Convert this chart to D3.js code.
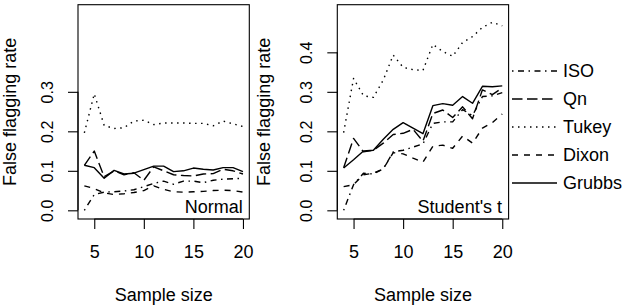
<!DOCTYPE html>
<html><head><meta charset="utf-8">
<script src="https://cdn.jsdelivr.net/npm/d3@7/dist/d3.min.js"></script>
<style>
body{margin:0;background:#fff}
svg{display:block}
text{font-family:"Liberation Sans",Arial,Helvetica,sans-serif;fill:#000}
</style>
</head><body>
<svg id="chart" width="623" height="307"></svg>
<script>
// ---------- data ----------
const sampleSizes = [4,5,6,7,8,9,10,11,12,13,14,15,16,17,18,19,20];
const methods = ["ISO","Qn","Tukey","Dixon","Grubbs"];
const panelNames = ["Normal","Student's t"];
const xTicks = [5,10,15,20];
const yTicksNormal = [0.0,0.1,0.2,0.3];
const yTicksT = [0.0,0.1,0.2,0.3,0.4];

const isoNormal    = [0.000,0.040,0.046,0.047,0.049,0.052,0.060,0.068,0.074,0.066,0.074,0.074,0.070,0.076,0.079,0.080,0.081];
const qnNormal     = [0.114,0.150,0.085,0.100,0.090,0.095,0.076,0.110,0.100,0.090,0.088,0.087,0.092,0.093,0.104,0.100,0.092];
const tukeyNormal  = [0.196,0.295,0.215,0.207,0.209,0.226,0.228,0.217,0.221,0.221,0.221,0.220,0.220,0.214,0.226,0.219,0.212];
const dixonNormal  = [0.062,0.055,0.044,0.040,0.042,0.045,0.050,0.062,0.053,0.047,0.046,0.047,0.048,0.050,0.051,0.050,0.046];
const grubbsNormal = [0.114,0.108,0.081,0.101,0.092,0.094,0.103,0.112,0.112,0.098,0.100,0.107,0.104,0.102,0.108,0.108,0.098];

const isoT    = [0.000,0.065,0.094,0.092,0.105,0.148,0.152,0.160,0.168,0.220,0.224,0.224,0.255,0.240,0.288,0.290,0.298];
const qnT     = [0.108,0.182,0.148,0.152,0.170,0.192,0.195,0.205,0.175,0.245,0.254,0.235,0.262,0.232,0.305,0.293,0.310];
const tukeyT  = [0.197,0.334,0.290,0.286,0.330,0.393,0.362,0.356,0.354,0.420,0.402,0.390,0.425,0.440,0.463,0.476,0.467];
const dixonT  = [0.060,0.065,0.090,0.094,0.105,0.146,0.143,0.132,0.122,0.162,0.165,0.157,0.188,0.170,0.208,0.222,0.244];
const grubbsT = [0.107,0.128,0.150,0.152,0.180,0.205,0.222,0.208,0.194,0.265,0.270,0.266,0.288,0.271,0.314,0.313,0.315];

// ---------- styles ----------
const dash = {ISO:"1.5,4.5,6,4.5", Qn:"10.5,4.5", Tukey:"1.5,4.5", Dixon:"6,6", Grubbs:null};
const FONT_TITLE = 18, FONT_XTICK = 18, FONT_YTICK = 16;

const panels = [
  {name: panelNames[0], left: 78,    titleOffset: 62,  yTicks: yTicksNormal,
   series: {ISO: isoNormal, Qn: qnNormal, Tukey: tukeyNormal, Dixon: dixonNormal, Grubbs: grubbsNormal}},
  {name: panelNames[1], left: 337.3, titleOffset: 67,  yTicks: yTicksT,
   series: {ISO: isoT, Qn: qnT, Tukey: tukeyT, Dixon: dixonT, Grubbs: grubbsT}}
];

const W = 171.3, TOP = 4.7, BOTTOM = 219;
const svg = d3.select("#chart");

panels.forEach(p => {
  const x = d3.scaleLinear().domain([3.36, 20.64]).range([p.left, p.left + W]);
  const y = d3.scaleLinear().domain([-0.022, 0.5206]).range([BOTTOM, TOP]);
  const g = svg.append("g");

  // lines
  const line = d3.line().x((d,i) => x(sampleSizes[i])).y(d => y(d));
  methods.forEach(m => {
    g.append("path").datum(p.series[m])
      .attr("d", line)
      .attr("fill","none").attr("stroke","#000").attr("stroke-width",1.4)
      .attr("stroke-dasharray", dash[m])
      .attr("stroke-linejoin","round");
  });

  // box
  g.append("rect").attr("x", p.left).attr("y", TOP).attr("width", W).attr("height", BOTTOM - TOP)
    .attr("fill","none").attr("stroke","#000").attr("stroke-width",1.1);

  // x axis
  const xa = g.append("g").attr("transform",`translate(0,${BOTTOM})`)
    .call(d3.axisBottom(x).tickValues(xTicks).tickSize(10).tickSizeOuter(0).tickFormat(d3.format("d")));
  xa.select(".domain").attr("d", `M${x(xTicks[0])},0H${x(xTicks[xTicks.length-1])}`).attr("stroke-width",1.1);
  xa.selectAll(".tick line").attr("stroke-width",1.1);
  xa.selectAll(".tick text").attr("y",39).attr("dy",0)
    .style("font-size", FONT_XTICK + "px").style("font-family","Liberation Sans, Arial, sans-serif").attr("fill","#000");

  // y axis
  const ya = g.append("g").attr("transform",`translate(${p.left},0)`)
    .call(d3.axisLeft(y).tickValues(p.yTicks).tickSize(10).tickSizeOuter(0).tickFormat(d3.format(".1f")));
  ya.select(".domain").attr("d", `M0,${y(p.yTicks[0])}V${y(p.yTicks[p.yTicks.length-1])}`).attr("stroke-width",1.1);
  ya.selectAll(".tick line").attr("stroke-width",1.1);
  ya.selectAll(".tick text")
    .attr("transform","rotate(-90)")
    .attr("x",0).attr("y",-25.5).attr("dy",0)
    .attr("text-anchor","middle")
    .style("font-size", FONT_YTICK + "px").style("font-family","Liberation Sans, Arial, sans-serif").attr("fill","#000");

  // axis titles
  g.append("text").attr("x", p.left + W/2).attr("y", 301).attr("text-anchor","middle")
    .style("font-size", FONT_TITLE + "px").text("Sample size");
  g.append("text").attr("transform", `translate(${p.left - p.titleOffset},${(TOP+BOTTOM)/2}) rotate(-90)`)
    .attr("text-anchor","middle").style("font-size", FONT_TITLE + "px").text("False flagging rate");

  // panel label
  g.append("text").attr("x", p.left + W - 6.5).attr("y", 213).attr("text-anchor","end")
    .style("font-size", FONT_TITLE + "px").text(p.name);
});

// legend
const legendY = d3.scalePoint().domain(methods).range([71, 183]);
const lg = svg.append("g");
methods.forEach(m => {
  lg.append("line").attr("x1",512).attr("x2",557).attr("y1",legendY(m)).attr("y2",legendY(m))
    .attr("stroke","#000").attr("stroke-width",1.4).attr("stroke-dasharray", dash[m]);
  lg.append("text").attr("x",563).attr("y",legendY(m) + 6.4)
    .style("font-size", FONT_TITLE + "px").text(m);
});
</script>
</body></html>
